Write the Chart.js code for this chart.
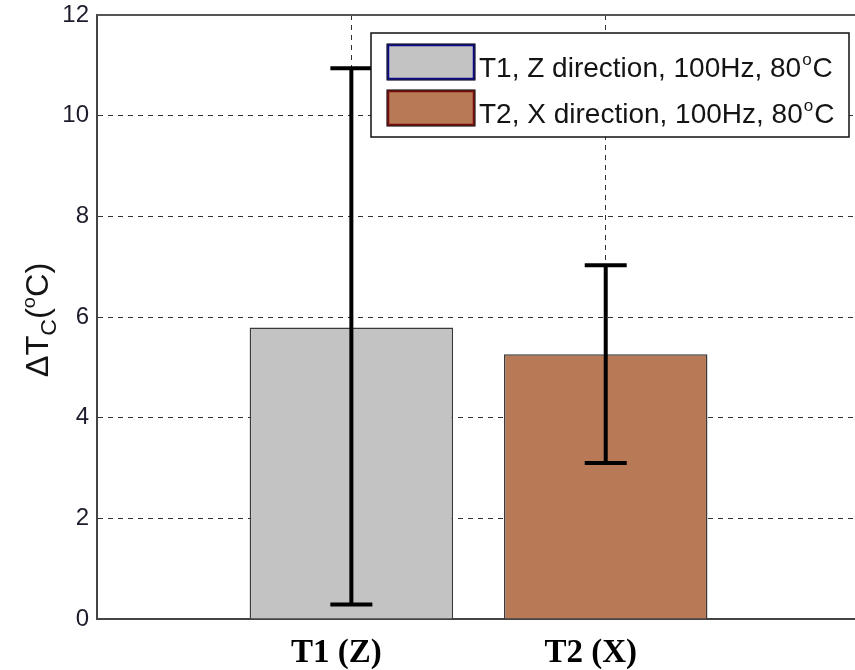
<!DOCTYPE html>
<html><head><meta charset="utf-8">
<script src="https://cdn.jsdelivr.net/npm/chart.js@4"></script>
<style>html,body{margin:0;padding:0;background:#fff;}#wrap{width:855px;height:670px;}</style>
</head><body><div id="wrap"><canvas id="c" width="855" height="670"></canvas></div>
<script>
const categories = ['T1 (Z)', 'T2 (X)'];
const seriesLabels = ['T1, Z direction, 100Hz, 80°C', 'T2, X direction, 100Hz, 80°C'];
const meanValues = [5.79, 5.26];
const errLow = [0.29, 3.10];
const errHigh = [10.94, 7.03];
const yTicks = [0, 2, 4, 6, 8, 10, 12];
const fillColors = ['#c3c3c3', '#b87a56'];
const swatchBorders = ['#0b0b8a', '#7a0c0c'];

const errorBars = {
  id: 'errorBars',
  afterDatasetsDraw(chart) {
    const {ctx, scales: {x, y}} = chart;
    ctx.save();
    ctx.strokeStyle = '#000';
    ctx.lineWidth = 4;
    ctx.setLineDash([]);
    categories.forEach((c, i) => {
      const px = x.getPixelForValue(i + 1);
      const yl = y.getPixelForValue(errLow[i]);
      const yh = y.getPixelForValue(errHigh[i]);
      ctx.beginPath();
      ctx.moveTo(px, yl); ctx.lineTo(px, yh);
      ctx.moveTo(px - 21, yl); ctx.lineTo(px + 21, yl);
      ctx.moveTo(px - 21, yh); ctx.lineTo(px + 21, yh);
      ctx.stroke();
    });
    ctx.restore();
  }
};

function drawSupText(ctx, text, x, y, size, family) {
  const parts = text.split('°');
  ctx.font = size + 'px ' + family;
  ctx.fillText(parts[0], x, y);
  let cx = x + ctx.measureText(parts[0]).width;
  if (parts.length > 1) {
    const s = Math.round(size * 0.62);
    ctx.font = s + 'px ' + family;
    ctx.fillText('o', cx + 1, y - size * 0.42);
    cx += ctx.measureText('o').width + 2;
    ctx.font = size + 'px ' + family;
    ctx.fillText(parts[1], cx, y);
    cx += ctx.measureText(parts[1]).width;
  }
  return cx - x;
}

const overlay = {
  id: 'overlay',
  afterDraw(chart) {
    const {ctx, chartArea: ca} = chart;
    ctx.save();
    ctx.strokeStyle = '#555';
    ctx.lineWidth = 2;
    ctx.beginPath();
    ctx.moveTo(ca.left, ca.top); ctx.lineTo(ca.right, ca.top);
    ctx.stroke();

    const family = '"Liberation Sans", Arial, sans-serif';
    const size = 28;
    const bx = 371, by = ca.top + 18, bw = 478, bh = 104;
    ctx.fillStyle = '#fff';
    ctx.fillRect(bx, by, bw, bh);
    ctx.strokeStyle = '#111';
    ctx.lineWidth = 1.5;
    ctx.strokeRect(bx, by, bw, bh);
    seriesLabels.forEach((lab, i) => {
      const sy = by + 11 + i * 46;
      ctx.fillStyle = fillColors[i];
      ctx.fillRect(bx + 16, sy, 88, 36);
      ctx.strokeStyle = swatchBorders[i];
      ctx.lineWidth = 2.5;
      ctx.strokeRect(bx + 17, sy + 1, 86, 34);
      ctx.strokeStyle = '#222';
      ctx.lineWidth = 1;
      ctx.strokeRect(bx + 16, sy, 88, 36);
      ctx.fillStyle = '#141414';
      ctx.textBaseline = 'alphabetic';
      ctx.textAlign = 'left';
      drawSupText(ctx, lab, bx + 108, sy + 33, size, family);
    });

    ctx.translate(48, 320);
    ctx.rotate(-Math.PI / 2);
    ctx.fillStyle = '#141414';
    ctx.textBaseline = 'alphabetic';
    ctx.textAlign = 'left';
    const big = '31px ' + family, small = '22px ' + family, sup = '19px ' + family;
    const pieces = [['ΔT', big, 0], ['C', small, 8], ['(', big, 0], ['o', sup, -13], ['C)', big, 0]];
    let total = 0;
    pieces.forEach(p => { ctx.font = p[1]; total += ctx.measureText(p[0]).width; });
    ctx.scale(1.05, 1);
    let cx = -total / 2;
    pieces.forEach(p => { ctx.font = p[1]; ctx.fillText(p[0], cx, p[2]); cx += ctx.measureText(p[0]).width; });
    ctx.restore();
  }
};

new Chart(document.getElementById('c'), {
  type: 'bar',
  data: {
    datasets: categories.map((c, i) => ({
      label: seriesLabels[i],
      data: [{x: i + 1, y: meanValues[i]}],
      backgroundColor: fillColors[i],
      borderColor: '#3a3a3a',
      borderWidth: 1.5,
      barPercentage: 0.8,
      categoryPercentage: 1,
      grouped: false
    }))
  },
  options: {
    responsive: false,
    devicePixelRatio: 1,
    animation: false,
    layout: {padding: {top: 15, left: 0, right: 0, bottom: 0}},
    plugins: {legend: {display: false}, tooltip: {enabled: false}},
    scales: {
      x: {
        type: 'linear',
        min: 0,
        max: 2.98,
        offset: false,
        afterFit(s) { s.height = 51; s.paddingLeft = 0; s.paddingRight = 0; },
        afterBuildTicks(s) { s.ticks = [0, 1, 2].map(v => ({value: v})); },
        ticks: {
          stepSize: 1,
          includeBounds: false,
          autoSkip: false,
          maxRotation: 0,
          padding: 15,
          labelOffset: -15,
          color: '#000',
          font: {family: '"Liberation Serif", "Times New Roman", serif', weight: 'bold', size: 33},
          callback: v => categories[v - 1] ?? ''
        },
        grid: {
          offset: false,
          drawTicks: false,
          lineWidth: 1,
          color: c => (c.tick && c.tick.value === 0) ? 'rgba(0,0,0,0)' : '#333'
        },
        border: {display: true, color: '#444', width: 2, dash: [5, 5]}
      },
      y: {
        min: 0,
        max: 12,
        afterFit(s) { s.width = 97; s.paddingTop = 0; s.paddingBottom = 0; },
        afterBuildTicks(s) { s.ticks = yTicks.map(v => ({value: v})); },
        ticks: {
          stepSize: 2,
          padding: 8,
          color: '#1c1c2c',
          font: {family: '"Liberation Sans", Arial, sans-serif', size: 24}
        },
        grid: {
          drawTicks: false,
          lineWidth: 1,
          color: c => (c.tick && c.tick.value === 0) ? 'rgba(0,0,0,0)' : '#333'
        },
        border: {display: true, color: '#444', width: 2, dash: [5, 5]}
      }
    }
  },
  plugins: [errorBars, overlay]
});
</script>
</body></html>
